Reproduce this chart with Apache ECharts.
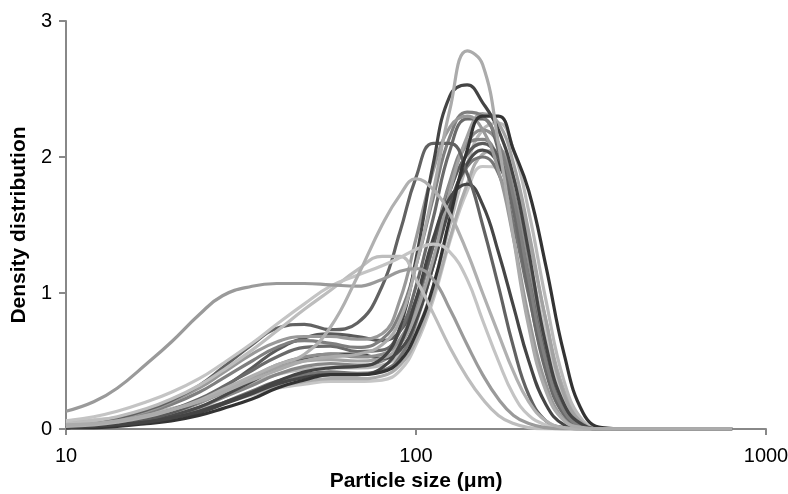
<!DOCTYPE html>
<html><head><meta charset="utf-8">
<script src="https://cdn.jsdelivr.net/npm/echarts@6/dist/echarts.min.js"></script>
<style>html,body{margin:0;padding:0;background:#fff}#c{width:788px;height:494px}</style>
</head><body><div id="c"></div>
<script>
const sizes = [10,12,14,17,20,24,28,34,40,48,57,68,80,90,100,112,125,140,155,172,190,210,235,265,300,340,400,500,800];
const yTicks = [0,1,2,3];
const xTicks = [10,100,1000];
const curveA = [0.13,0.2,0.3,0.48,0.64,0.84,0.98,1.05,1.07,1.07,1.06,1.05,1.1,1.16,1.18,1.1,0.88,0.62,0.4,0.22,0.1,0.04,0.01,0,0,0,0,0,0];
const curveB = [0.06,0.09,0.13,0.2,0.27,0.37,0.48,0.63,0.77,0.92,1.05,1.13,1.2,1.26,1.32,1.36,1.3,1.1,0.8,0.5,0.25,0.1,0.03,0,0,0,0,0,0];
const curveC = [0.04,0.06,0.09,0.15,0.22,0.32,0.43,0.58,0.72,0.88,1.02,1.17,1.27,1.27,1.1,0.85,0.6,0.38,0.22,0.1,0.04,0.01,0,0,0,0,0,0,0];
const curveD = [0.02,0.03,0.05,0.09,0.14,0.21,0.29,0.39,0.47,0.55,0.75,1.12,1.5,1.72,1.84,1.76,1.58,1.3,1.0,0.7,0.42,0.2,0.06,0.01,0,0,0,0,0];
const curveE = [0.03,0.05,0.08,0.14,0.21,0.32,0.45,0.62,0.74,0.77,0.73,0.78,1.05,1.45,1.85,2.1,2.1,1.88,1.5,1.05,0.6,0.25,0.06,0.01,0,0,0,0,0];
const curveF = [0.01,0.02,0.03,0.05,0.08,0.12,0.18,0.26,0.33,0.38,0.4,0.4,0.45,0.62,0.95,1.4,1.7,1.8,1.65,1.3,0.9,0.5,0.18,0.03,0,0,0,0,0];
const curveG = [0.03,0.04,0.06,0.1,0.14,0.2,0.27,0.36,0.43,0.5,0.53,0.55,0.62,0.8,1.2,1.75,2.35,2.78,2.68,2.1,1.4,0.75,0.28,0.06,0.01,0,0,0,0];
const curveH = [0.01,0.02,0.03,0.05,0.08,0.13,0.19,0.27,0.35,0.42,0.45,0.46,0.52,0.75,1.25,1.95,2.45,2.53,2.4,2.2,1.85,1.3,0.62,0.18,0.03,0,0,0,0];
const curveI = [0.01,0.01,0.02,0.04,0.06,0.1,0.15,0.22,0.3,0.36,0.4,0.4,0.42,0.5,0.7,1.05,1.55,2.05,2.3,2.3,2.05,1.75,1.2,0.55,0.12,0.01,0,0,0];
const curveM1 = [0.03,0.05,0.07,0.12,0.18,0.27,0.37,0.5,0.6,0.65,0.63,0.6,0.66,0.85,1.2,1.7,2.15,2.33,2.3,2.1,1.7,1.1,0.5,0.13,0.02,0,0,0,0];
const curveM2 = [0.04,0.05,0.07,0.1,0.14,0.21,0.28,0.38,0.45,0.5,0.51,0.5,0.52,0.62,0.85,1.25,1.75,2.15,2.32,2.25,1.95,1.45,0.8,0.25,0.04,0,0,0,0];
const curveM3 = [0.02,0.03,0.05,0.09,0.14,0.22,0.31,0.43,0.53,0.6,0.61,0.57,0.58,0.72,1.05,1.55,2.05,2.28,2.28,2.05,1.6,1.0,0.42,0.1,0.01,0,0,0,0];
const curveM4 = [0.05,0.06,0.08,0.11,0.15,0.2,0.26,0.34,0.4,0.44,0.45,0.45,0.47,0.55,0.72,1.05,1.5,1.95,2.2,2.25,2.05,1.6,0.95,0.35,0.06,0,0,0,0];
const curveM5 = [0.02,0.03,0.05,0.08,0.12,0.19,0.27,0.38,0.47,0.53,0.55,0.53,0.55,0.66,0.92,1.35,1.8,2.1,2.2,2.1,1.75,1.2,0.6,0.17,0.02,0,0,0,0];
const curveM6 = [0.01,0.02,0.04,0.07,0.12,0.2,0.3,0.45,0.58,0.67,0.7,0.68,0.65,0.72,0.95,1.35,1.75,2.02,2.1,2.0,1.65,1.1,0.52,0.13,0.02,0,0,0,0];
const curveM7 = [0.03,0.04,0.05,0.07,0.1,0.14,0.19,0.26,0.31,0.35,0.37,0.37,0.39,0.47,0.65,0.98,1.4,1.8,2.02,2.05,1.85,1.4,0.8,0.28,0.05,0,0,0,0];
const curveM8 = [0.01,0.02,0.03,0.05,0.08,0.13,0.19,0.28,0.35,0.4,0.42,0.41,0.43,0.53,0.78,1.2,1.65,1.93,2.0,1.88,1.5,0.98,0.45,0.12,0.02,0,0,0,0];
const curveM9 = [0.06,0.07,0.08,0.1,0.12,0.15,0.19,0.25,0.3,0.33,0.35,0.35,0.36,0.43,0.62,0.95,1.38,1.75,1.93,1.92,1.7,1.25,0.7,0.22,0.03,0,0,0,0];
const curveM10 = [0.02,0.03,0.04,0.07,0.1,0.16,0.23,0.32,0.4,0.46,0.48,0.47,0.5,0.62,0.9,1.35,1.82,2.1,2.13,1.98,1.6,1.05,0.48,0.12,0.01,0,0,0,0];
const curveM11 = [0.01,0.02,0.03,0.06,0.1,0.16,0.24,0.35,0.45,0.52,0.55,0.55,0.52,0.58,0.8,1.2,1.63,1.95,2.05,1.95,1.62,1.1,0.55,0.16,0.02,0,0,0,0];
const curveM12 = [0.03,0.05,0.08,0.13,0.2,0.3,0.41,0.55,0.64,0.68,0.68,0.66,0.7,0.95,1.4,1.9,2.22,2.3,2.2,1.9,1.4,0.82,0.33,0.07,0.01,0,0,0,0];

const curves = [
  [curveM9,'#c6c6c6'],[curveM7,'#ababab'],[curveM4,'#b9b9b9'],[curveM8,'#767676'],
  [curveM10,'#878787'],[curveM11,'#4a4a4a'],[curveM5,'#8e8e8e'],[curveM6,'#5a5a5a'],
  [curveM2,'#a2a2a2'],[curveM3,'#6a6a6a'],[curveM1,'#7f7f7f'],[curveM12,'#999999'],
  [curveF,'#454545'],[curveE,'#626262'],[curveI,'#333333'],[curveH,'#444444'],
  [curveC,'#bdbdbd'],[curveB,'#c4c4c4'],[curveA,'#9a9a9a'],[curveD,'#b0b0b0'],[curveG,'#ababab']
];

const chart = echarts.init(document.getElementById('c'), null, {renderer:'canvas'});
const axisColor = '#888888';
const font = 'Liberation Sans, Arial, sans-serif';
chart.setOption({
  animation: false,
  grid: {left: 66, right: 22, top: 21, bottom: 65, containLabel: false, outerBoundsMode: 'none'},
  xAxis: {
    type: 'log', logBase: 10, min: xTicks[0], max: xTicks[xTicks.length-1],
    name: 'Particle size (μm)', nameLocation: 'middle', nameGap: 42,
    nameTextStyle: {fontSize: 21, fontWeight: 'bold', color: '#000', fontFamily: font},
    axisLine: {lineStyle: {color: axisColor, width: 2}},
    axisTick: {show: true, length: 6, lineStyle: {color: axisColor, width: 2}},
    minorTick: {show: false},
    splitLine: {show: false},
    axisLabel: {fontSize: 20, color: '#000', margin: 17, fontFamily: font,
      formatter: v => String(Math.round(v))}
  },
  yAxis: {
    type: 'value', min: yTicks[0], max: yTicks[yTicks.length-1], interval: 1,
    name: 'Density distribution', nameLocation: 'middle', nameGap: 32,
    nameTextStyle: {fontSize: 21, fontWeight: 'bold', color: '#000', fontFamily: font},
    axisLine: {show: true, lineStyle: {color: axisColor, width: 2}},
    axisTick: {show: true, length: 7, lineStyle: {color: axisColor, width: 2}},
    splitLine: {show: false},
    axisLabel: {fontSize: 20, color: '#000', margin: 14, fontFamily: font}
  },
  series: curves.map(([vals,col]) => ({
    type: 'line', smooth: 0.45, symbol: 'none',
    lineStyle: {color: col, width: 3.2},
    data: sizes.map((s,i) => [s, vals[i]])
  }))
});
</script></body></html>
